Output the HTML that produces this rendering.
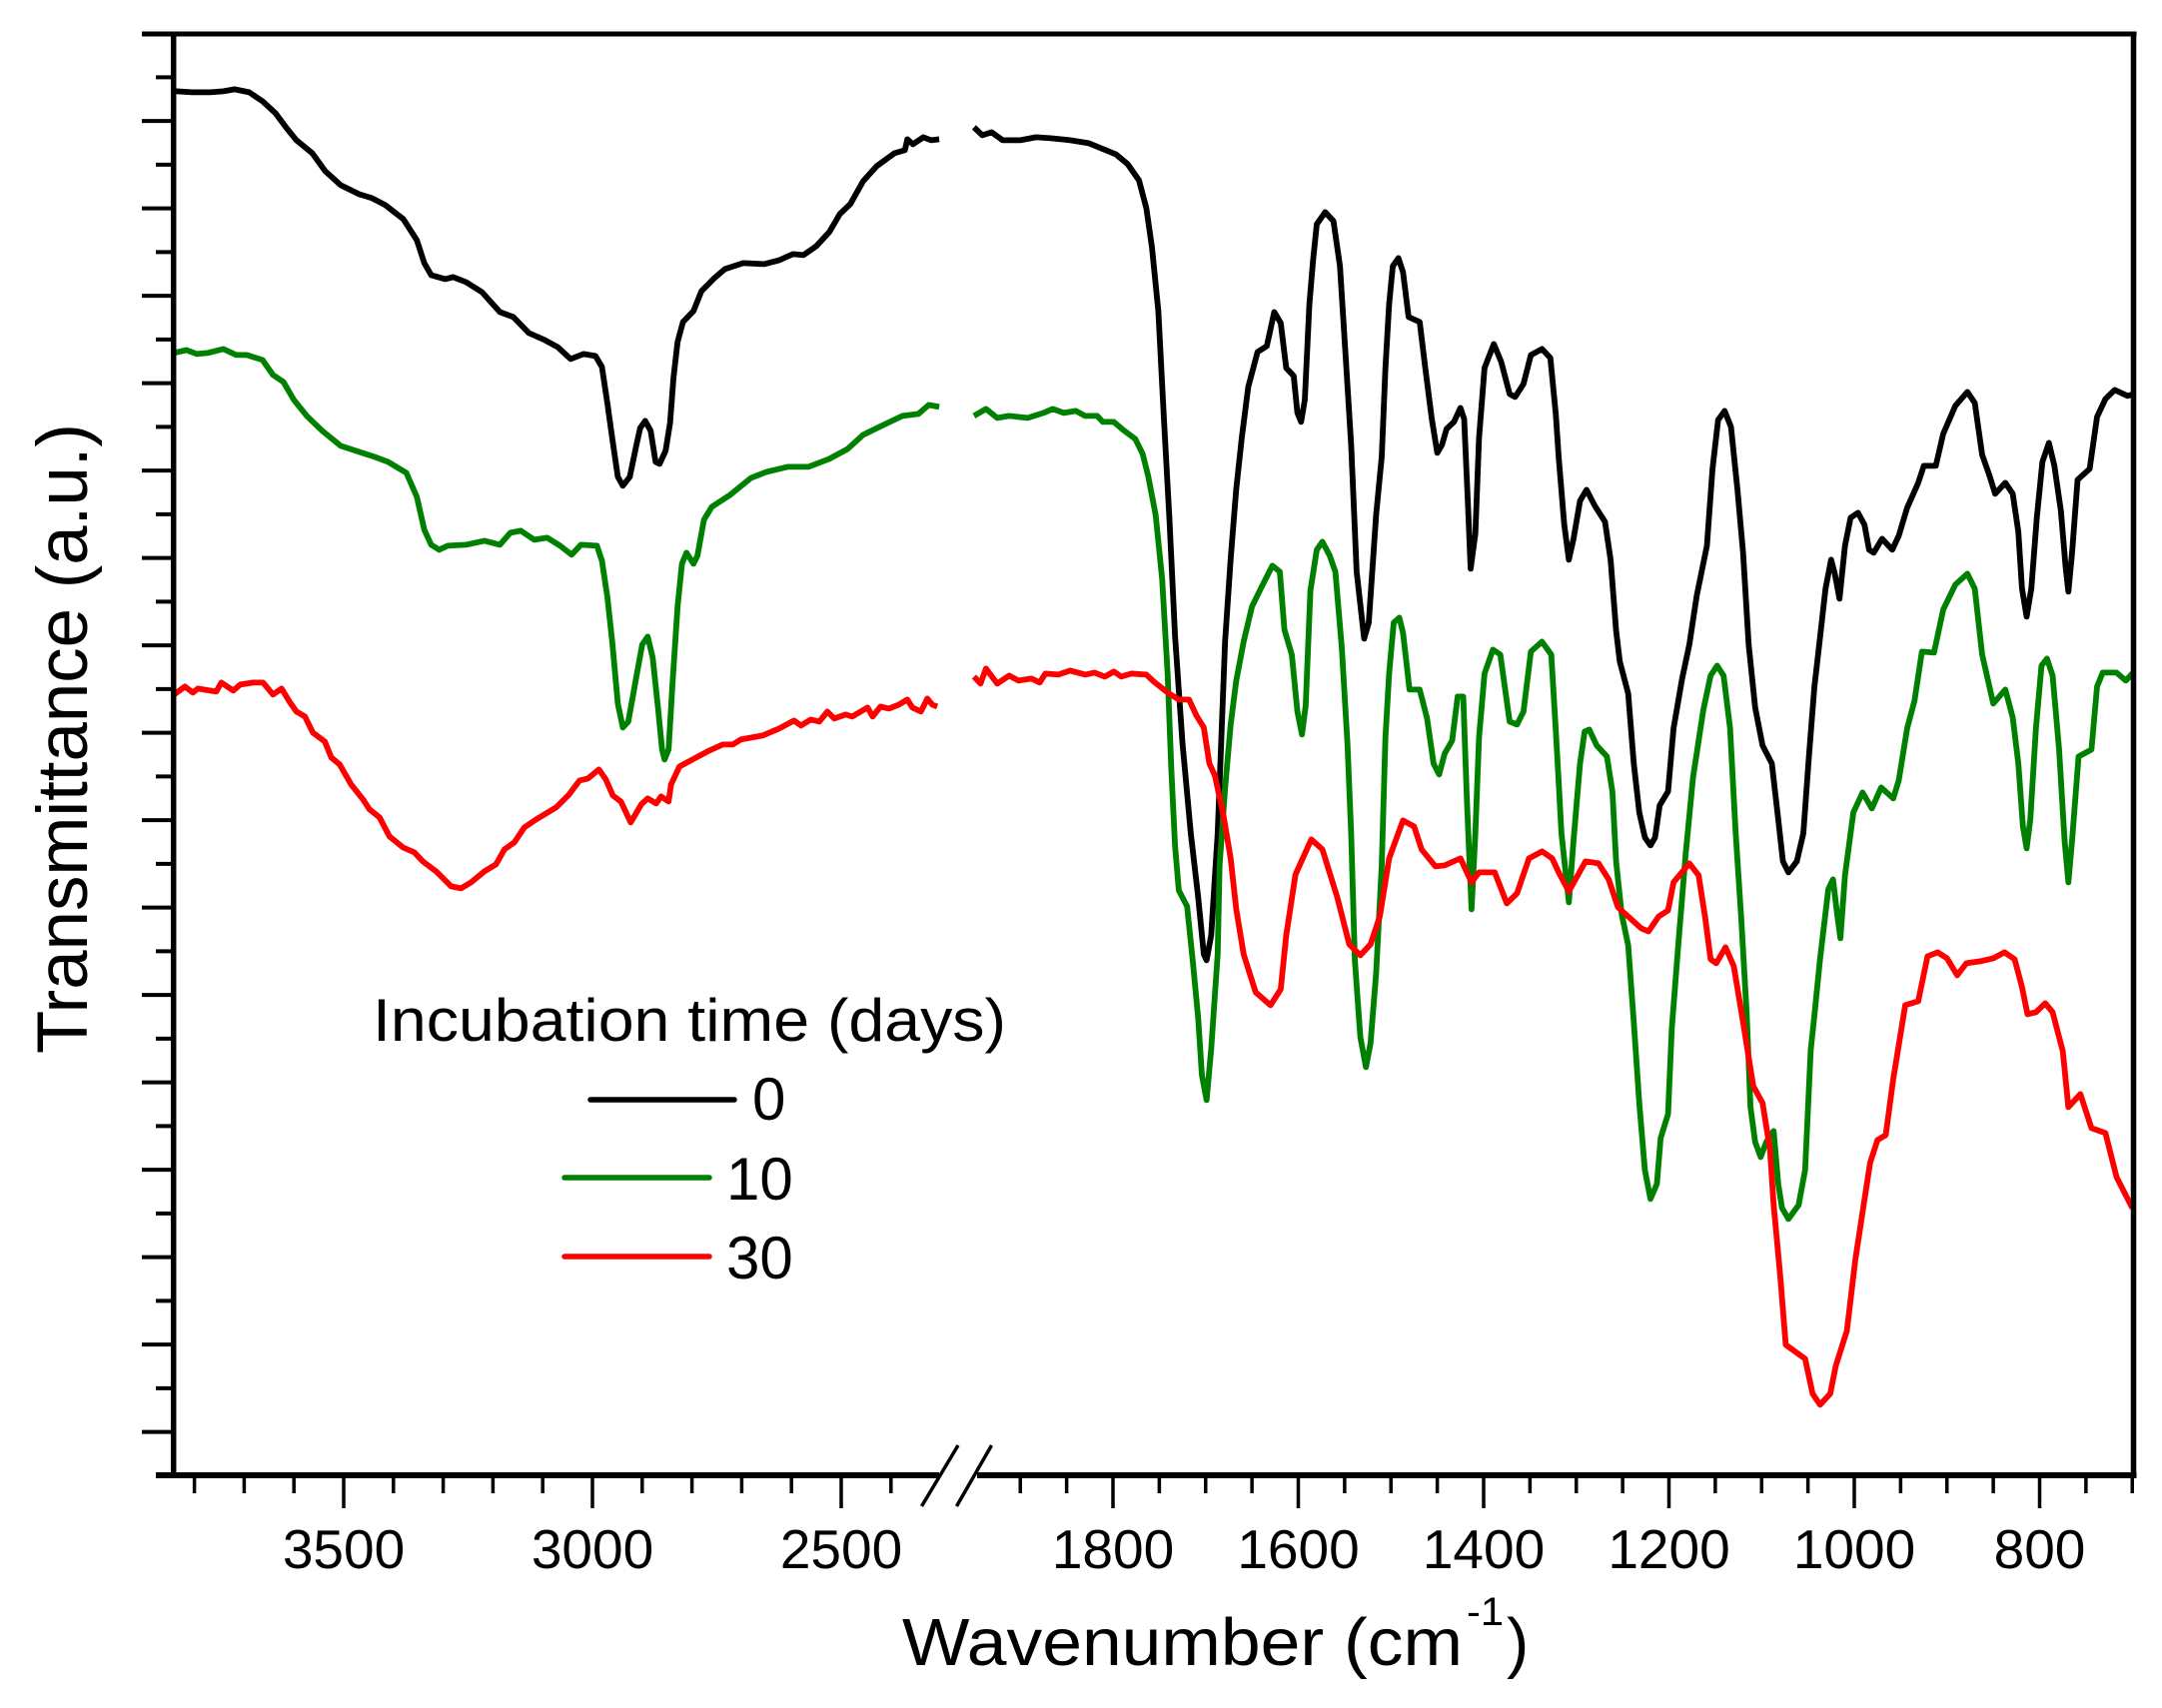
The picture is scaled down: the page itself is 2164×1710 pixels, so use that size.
<!DOCTYPE html>
<html lang="en">
<head>
<meta charset="utf-8">
<title>FTIR transmittance spectra by incubation time</title>
<style>
html,body{margin:0;padding:0;background:#fff;}
svg{display:block;}
text{font-family:"Liberation Sans",Arial,sans-serif;fill:#000;}
</style>
</head>
<body>
<svg id="chart" xmlns="http://www.w3.org/2000/svg" width="2164" height="1710" viewBox="0 0 2164 1710">
  <rect x="0" y="0" width="2164" height="1710" fill="#ffffff"/>
  <g id="series"></g>
  <g id="axes"></g>
  <text transform="translate(87,1055) rotate(-90)" font-size="71" textLength="631" lengthAdjust="spacingAndGlyphs">Transmittance (a.u.)</text>
  <g>
    <text x="903" y="1667" font-size="67" textLength="561" lengthAdjust="spacingAndGlyphs">Wavenumber (cm</text>
    <text x="1468" y="1627" font-size="40" textLength="37" lengthAdjust="spacingAndGlyphs">-1</text>
    <text x="1508" y="1667" font-size="67">)</text>
  </g>
  <g>
    <text x="373" y="1042" font-size="60" textLength="634" lengthAdjust="spacingAndGlyphs">Incubation time (days)</text>
    <g>
      <line x1="591" y1="1101" x2="735" y2="1101" stroke="#000000" stroke-width="5.5" stroke-linecap="round"/>
      <text x="753" y="1121" font-size="60">0</text>
    </g>
    <g>
      <line x1="565" y1="1179" x2="710" y2="1179" stroke="#008000" stroke-width="5.5" stroke-linecap="round"/>
      <text x="727" y="1201" font-size="60">10</text>
    </g>
    <g>
      <line x1="565" y1="1258" x2="710" y2="1258" stroke="#ff0000" stroke-width="5.5" stroke-linecap="round"/>
      <text x="727" y="1280" font-size="60">30</text>
    </g>
  </g>
</svg>
<script>
// ---- Tick data ----
const leftMajorTicks = [3500, 3000, 2500];
const leftMinorTicks = [3800, 3700, 3600, 3400, 3300, 3200, 3100, 2900, 2800, 2700, 2600, 2400];
const rightMajorTicks = [1800, 1600, 1400, 1200, 1000, 800];
const rightMinorTicks = [1900, 1850, 1750, 1700, 1650, 1550, 1500, 1450, 1350, 1300, 1250, 1150, 1100, 1050, 950, 900, 850, 750, 700];

// ---- Day 0 (black) ----
const wnLeft0 = [3842,3836,3805,3768,3742,3719,3690,3663,3637,3616,3595,3563,3537,3506,3469,3443,3416,3380,3353,3338,3324,3296,3280,3254,3222,3186,3159,3128,3096,3070,3044,3018,2994,2981,2970,2960,2949,2939,2925,2912,2904,2894,2883,2873,2865,2853,2844,2837,2829,2818,2797,2781,2755,2734,2697,2655,2624,2597,2576,2550,2524,2503,2482,2456,2429,2393,2372,2367,2356,2335,2319,2303];
const valLeft0 = [1386,1386,1385,1385,1386,1388,1385,1376,1364,1350,1337,1324,1306,1292,1283,1279,1272,1258,1237,1214,1202,1198,1200,1195,1185,1165,1160,1144,1137,1130,1118,1123,1121,1110,1074,1038,1000,991,1000,1031,1049,1056,1046,1015,1013,1026,1054,1100,1135,1155,1166,1186,1199,1208,1214,1213,1217,1223,1222,1231,1245,1263,1273,1296,1311,1324,1327,1338,1333,1340,1337,1338];
const wnRight0 = [1950,1941,1931,1919,1900,1883,1867,1846,1826,1797,1784,1772,1764,1758,1751,1745,1739,1733,1725,1716,1708,1702,1699,1694,1687,1683,1679,1673,1667,1661,1654,1644,1634,1626,1619,1613,1605,1601,1597,1593,1588,1584,1580,1571,1562,1555,1549,1543,1537,1529,1524,1516,1510,1506,1502,1498,1492,1487,1481,1469,1463,1456,1450,1445,1440,1432,1425,1421,1417,1414,1409,1405,1399,1389,1381,1372,1366,1357,1349,1337,1328,1322,1319,1313,1308,1303,1296,1289,1280,1269,1263,1257,1253,1244,1238,1232,1226,1220,1215,1210,1201,1195,1186,1178,1170,1159,1153,1147,1140,1133,1126,1120,1114,1107,1099,1089,1082,1077,1071,1062,1055,1049,1043,1037,1031,1025,1021,1016,1010,1004,996,989,984,979,970,959,952,943,931,925,912,904,891,878,870,862,854,848,837,829,823,819,814,809,803,797,790,784,777,772,769,765,759,746,738,729,719,705,698];
const valRight0 = [1350,1342,1345,1337,1337,1340,1339,1337,1334,1323,1313,1297,1269,1230,1166,1058,956,841,733,643,579,522,516,541,643,739,835,918,988,1039,1090,1125,1131,1165,1154,1109,1101,1064,1055,1077,1173,1217,1253,1265,1256,1211,1122,1032,905,838,854,962,1020,1109,1173,1211,1219,1205,1160,1155,1109,1058,1024,1032,1048,1055,1069,1058,975,908,943,1039,1109,1133,1115,1083,1080,1093,1122,1128,1119,1062,1020,952,917,938,976,987,971,955,917,846,815,783,713,664,639,631,639,671,685,748,797,832,881,931,1008,1057,1066,1050,987,924,832,769,731,713,657,615,604,615,643,720,790,839,888,917,903,878,931,959,964,952,927,924,938,927,941,969,994,1011,1011,1043,1071,1085,1074,1022,1001,983,994,983,945,888,860,888,959,1015,1034,1011,966,910,885,924,997,1008,1060,1078,1087,1081,1083];

// ---- Day 10 (green) ----
const wnLeft10 = [3842,3816,3795,3774,3742,3716,3695,3663,3642,3621,3600,3574,3543,3506,3469,3438,3411,3374,3353,3338,3324,3308,3291,3254,3217,3186,3165,3144,3117,3091,3065,3042,3023,2991,2981,2970,2960,2949,2939,2928,2912,2900,2889,2879,2868,2860,2855,2847,2839,2829,2820,2811,2797,2789,2776,2760,2723,2681,2650,2608,2566,2524,2487,2456,2419,2377,2345,2324,2303];
const valLeft10 = [1124,1127,1123,1124,1128,1122,1122,1117,1102,1095,1077,1061,1046,1031,1025,1020,1015,1004,980,947,932,927,931,932,936,932,944,946,937,939,931,922,932,931,916,880,834,773,749,755,799,832,840,819,768,727,717,727,794,870,913,924,913,921,957,970,982,999,1005,1010,1010,1018,1028,1042,1051,1061,1063,1072,1070];
const wnRight10 = [1950,1937,1925,1912,1892,1875,1865,1853,1840,1830,1817,1811,1799,1789,1776,1768,1762,1754,1747,1741,1737,1733,1729,1720,1714,1708,1704,1699,1694,1687,1685,1679,1673,1667,1659,1650,1640,1628,1620,1615,1607,1601,1596,1592,1587,1580,1574,1566,1560,1553,1547,1543,1539,1533,1527,1522,1516,1510,1506,1502,1497,1491,1487,1480,1469,1461,1454,1448,1442,1434,1428,1422,1418,1413,1409,1405,1399,1390,1382,1372,1364,1357,1349,1337,1327,1322,1319,1316,1308,1303,1296,1291,1286,1278,1267,1261,1257,1251,1244,1238,1232,1226,1220,1213,1209,1201,1197,1190,1182,1174,1163,1155,1148,1141,1134,1128,1122,1116,1112,1107,1101,1095,1087,1082,1078,1071,1060,1053,1047,1043,1037,1028,1023,1019,1015,1010,1001,991,981,971,958,952,943,935,927,914,904,891,878,870,862,850,837,829,823,818,814,810,804,798,792,786,779,773,769,765,758,744,738,732,717,707,699];
const valRight10 = [1061,1068,1059,1061,1059,1064,1068,1064,1066,1061,1061,1055,1055,1047,1038,1023,1001,962,898,803,707,631,586,570,516,458,401,376,427,522,611,688,752,796,835,870,889,911,905,847,822,765,742,771,886,927,935,921,905,828,733,643,516,439,409,433,503,611,739,803,854,859,844,787,787,758,713,702,723,736,780,780,675,567,643,739,803,827,822,755,752,765,825,835,822,745,695,643,574,636,713,745,747,731,720,685,615,562,531,454,373,306,277,292,338,362,447,531,622,699,766,801,811,801,748,643,559,461,369,334,319,334,345,292,268,257,271,306,426,461,517,587,597,566,538,601,664,684,668,689,678,696,748,776,825,824,867,892,903,888,822,773,787,759,713,650,628,657,748,811,818,801,727,636,594,636,720,727,790,804,804,796,804];

// ---- Day 30 (red) ----
const wnLeft30 = [3841,3819,3803,3793,3769,3756,3746,3722,3708,3682,3662,3642,3625,3609,3595,3578,3562,3538,3525,3508,3485,3461,3448,3428,3408,3381,3358,3341,3314,3284,3264,3244,3217,3194,3177,3157,3137,3113,3073,3047,3026,3009,2987,2973,2959,2943,2923,2902,2889,2872,2862,2847,2842,2825,2799,2769,2738,2718,2702,2658,2625,2595,2581,2561,2544,2528,2514,2491,2478,2447,2437,2421,2404,2384,2367,2357,2340,2327,2317,2307];
const valLeft30 = [782,790,784,788,786,785,794,786,792,794,794,782,788,775,765,760,744,735,719,712,692,677,667,659,640,629,624,615,605,590,588,594,605,612,627,634,649,657,669,682,696,698,707,697,681,675,654,672,678,673,680,675,692,710,717,725,732,732,737,741,748,756,751,757,755,765,758,762,760,769,760,770,768,772,777,769,765,778,772,770];
const wnRight30 = [1950,1943,1937,1925,1912,1902,1888,1879,1873,1859,1846,1830,1820,1809,1799,1791,1780,1764,1756,1741,1729,1718,1710,1702,1696,1690,1681,1673,1667,1659,1646,1630,1619,1613,1603,1586,1574,1558,1545,1533,1522,1512,1502,1487,1475,1467,1452,1442,1425,1413,1405,1388,1375,1364,1351,1337,1326,1319,1308,1290,1276,1265,1255,1230,1222,1211,1201,1195,1178,1168,1161,1155,1149,1139,1130,1120,1109,1099,1091,1087,1080,1074,1053,1045,1037,1026,1020,1008,999,991,983,975,966,958,945,931,921,910,900,889,879,864,850,838,827,819,813,804,794,786,775,769,756,744,729,717,700];
const valRight30 = [800,793,808,793,801,796,798,794,803,802,806,802,804,800,805,800,803,802,795,784,777,777,761,749,713,701,662,618,567,522,484,471,487,541,602,637,627,579,532,521,532,560,618,656,650,627,610,611,618,594,604,604,573,583,618,625,618,604,585,615,613,597,569,548,545,560,566,594,613,601,559,517,513,529,510,454,390,373,327,271,201,131,117,82,71,82,110,145,215,264,313,336,341,397,471,475,520,524,518,501,513,515,518,524,517,489,462,464,473,464,425,369,382,348,343,299,268];

// ---- Axis functions ----
function xLeft(w) { return 344 + (3500 - w) * 0.498; }
function xRight(w) { return 1114 + (1800 - w) * 0.9275; }
function yAxis(v) { return 1477.4 - v; }

const svgNS = 'http://www.w3.org/2000/svg';
const seriesLayer = document.getElementById('series');
const axesLayer = document.getElementById('axes');

function drawSegment(wn, val, xFn, color, name) {
  let d = '';
  for (let i = 0; i < wn.length; i++) {
    d += (i ? 'L' : 'M') + xFn(wn[i]).toFixed(1) + ' ' + yAxis(val[i]).toFixed(1);
  }
  const p = document.createElementNS(svgNS, 'path');
  p.setAttribute('d', d);
  p.setAttribute('fill', 'none');
  p.setAttribute('stroke', color);
  p.setAttribute('stroke-width', '5.8');
  p.setAttribute('stroke-linejoin', 'round');
  p.setAttribute('stroke-linecap', 'butt');
  
  
  seriesLayer.appendChild(p);
}

drawSegment(wnLeft0, valLeft0, xLeft, '#000000', 'series-day-0-high-wavenumber');
drawSegment(wnRight0, valRight0, xRight, '#000000', 'series-day-0-low-wavenumber');
drawSegment(wnLeft10, valLeft10, xLeft, '#008000', 'series-day-10-high-wavenumber');
drawSegment(wnRight10, valRight10, xRight, '#008000', 'series-day-10-low-wavenumber');
drawSegment(wnLeft30, valLeft30, xLeft, '#ff0000', 'series-day-30-high-wavenumber');
drawSegment(wnRight30, valRight30, xRight, '#ff0000', 'series-day-30-low-wavenumber');

function addLine(x1, y1, x2, y2, w, name) {
  const l = document.createElementNS(svgNS, 'line');
  l.setAttribute('x1', x1);
  l.setAttribute('y1', y1);
  l.setAttribute('x2', x2);
  l.setAttribute('y2', y2);
  l.setAttribute('stroke', '#000');
  l.setAttribute('stroke-width', w);
  
  
  axesLayer.appendChild(l);
}

function addLabel(x, txt) {
  const t = document.createElementNS(svgNS, 'text');
  t.setAttribute('x', x);
  t.setAttribute('y', 1570);
  t.setAttribute('font-size', '55');
  t.setAttribute('text-anchor', 'middle');
  t.textContent = txt;
  
  
  axesLayer.appendChild(t);
}

const axisY = 1477, majorEnd = 1510, minorEnd = 1495;

// Frame
addLine(142, 34, 2138.5, 34, 5, 'top-axis');
addLine(173.7, 31.5, 173.7, 1480, 5.5, 'left-axis');
addLine(2135.5, 31.5, 2135.5, 1480, 5.5, 'right-axis');
addLine(156, axisY, 940, axisY, 6, 'bottom-axis-high-wavenumber');
addLine(978, axisY, 2138.5, axisY, 6, 'bottom-axis-low-wavenumber');

// Axis break marks
addLine(922.5, 1508, 959, 1447, 3.5, 'axis-break-slash-left');
addLine(957.5, 1508, 992.5, 1447, 3.5, 'axis-break-slash-right');

// X ticks
leftMajorTicks.forEach(function (w) {
  addLine(xLeft(w), axisY, xLeft(w), majorEnd, 3.5, 'x-major-tick');
  addLabel(xLeft(w), String(w));
});
leftMinorTicks.forEach(function (w) {
  addLine(xLeft(w), axisY, xLeft(w), minorEnd, 3.5, 'x-minor-tick');
});
rightMajorTicks.forEach(function (w) {
  addLine(xRight(w), axisY, xRight(w), majorEnd, 3.5, 'x-major-tick');
  addLabel(xRight(w), String(w));
});
rightMinorTicks.forEach(function (w) {
  addLine(xRight(w), axisY, xRight(w), minorEnd, 3.5, 'x-minor-tick');
});

// Y ticks: arbitrary units, one tick every 43.75 a.u., odd ticks long
const yTickStep = 43.75;
const yTickCount = 33;
for (let k = 0; k <= yTickCount; k++) {
  const yy = yAxis(k * yTickStep);
  if (k % 2 === 1) {
    addLine(142, yy, 173, yy, 4, 'y-major-tick');
  } else {
    addLine(156, yy, 173, yy, 4, 'y-minor-tick');
  }
}
</script>
</body>
</html>
